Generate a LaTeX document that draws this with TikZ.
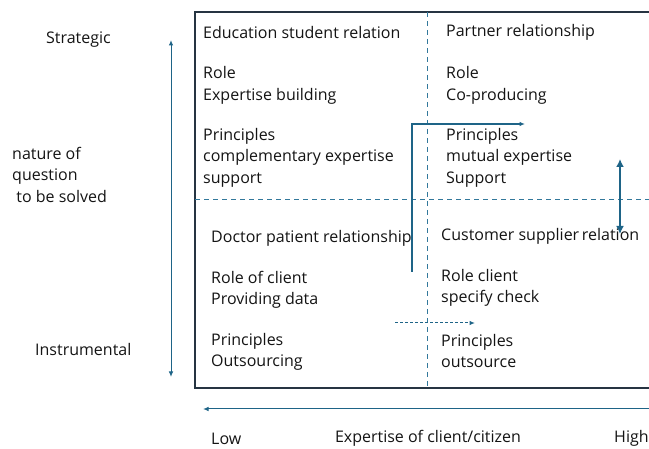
\documentclass[tikz,border=0pt]{standalone}
\usepackage{fontspec}
\setmainfont{Open Sans}
\usepackage{xcolor}
\usetikzlibrary{arrows.meta}
\definecolor{framecol}{RGB}{38,52,66}
\definecolor{axiscol}{RGB}{30,100,135}
\definecolor{splitcol}{RGB}{50,120,155}
\definecolor{txtcol}{RGB}{20,20,20}

\tikzset{
  cell/.style={anchor=west, align=left, inner sep=0pt, text=txtcol,
    font=\fontsize{16}{21.5}\selectfont},
  axis/.style={axiscol, line width=1pt, -{Latex[length=5.5pt,width=4.5pt]}},
  split/.style={splitcol, line width=1pt, dash pattern=on 5pt off 4pt}
}

\begin{document}
\begin{tikzpicture}[x=1pt,y=-1pt]
    \useasboundingbox (0,0) rectangle (649,449);
    \clip (0,0) rectangle (649,449);
    % quadrants
    \draw[framecol, line width=1.2pt] (660,12) -- (195,12) -- (195,388) -- (660,388);
    \draw[split] (427,12) -- (427,388);
    \draw[split] (195,200) -- (660,200);
    % upper left
    \node[cell] (ul1) at (203,32.5) {Education student relation};
    \node[cell] (ul2) at (203,85.5) {Role\\Expertise building};
    \node[cell] (ul3) at (203,157.5) {Principles\\complementary expertise\\support};
    % upper right
    \node[cell] (ur1) at (446,32.5) {Partner relationship};
    \node[cell] (ur2) at (446,85.5) {Role\\Co-producing};
    \node[cell] (ur3) at (446,157.5) {Principles\\mutual expertise\\Support};
    % lower left
    \node[cell] (ll1) at (211,238.5) {Doctor patient relationship};
    \node[cell] (ll2) at (211,290) {Role of client\\Providing data};
    \node[cell] (ll3) at (211,352) {Principles\\Outsourcing};
    % lower right
    \node[cell] (lr1) at (441,236.5) {Customer supplier\,relation};
    \node[cell] (lr2) at (441,288) {Role client\\specify check};
    \node[cell] (lr3) at (441,351) {Principles\\outsource};
    % left axis
    \node[cell] (strat) at (46,39.5) {Strategic};
    \node[cell] (nat) at (12,174.5) {nature of\\question\\ \ to be solved};
    \node[cell] (instr) at (35,349.5) {Instrumental};
    \coordinate (vtop) at (171,40);
    \coordinate (vbot) at (171,377);
    \draw[axis, {Latex[length=5.5pt,width=4.5pt]}-{Latex[length=5.5pt,width=4.5pt]}] (vbot) -- (vtop);
    % bottom axis
    \node[cell] (low) at (211,438.5) {Low};
    \node[cell, anchor=center] (expert) at (428,438.5) {Expertise of client/citizen};
    \node[cell] (high) at (614,438.5) {High};
    \coordinate (hright) at (652,409);
    \coordinate (hleft) at (203,409);
    \draw[axis] (hright) -- (hleft);
    % movement between quadrants
    \coordinate (mstart) at (412,272);
    \coordinate (mturn) at (412,124);
    \coordinate (mend) at (525,124);
    \draw[axis, line width=1.3pt] (mstart) -- (mturn) -- (mend);
    \coordinate (dstart) at (395,323);
    \coordinate (dend) at (475,323);
    \draw[axis, dash pattern=on 3pt off 2pt] (dstart) -- (dend);
    \coordinate (btop) at (620,159);
    \coordinate (bbot) at (620,234);
    \draw[axis, line width=2.7pt, {Latex[length=8pt,width=8pt]}-{Latex[length=8pt,width=8pt]}] (bbot) -- (btop);
\end{tikzpicture}
\end{document}
